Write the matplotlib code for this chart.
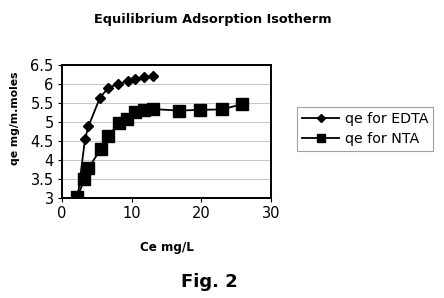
import numpy as np
import matplotlib
matplotlib.use("Agg")
import matplotlib.pyplot as plt

plt.rcParams['font.family'] = ['DejaVu Sans']

edta_ce = [2.3, 3.3, 3.8, 5.45, 6.64, 8.1, 9.5, 10.5, 11.8, 13.1]
edta_qe = [3.08, 4.55, 4.89, 5.64, 5.9, 6.0, 6.08, 6.12, 6.18, 6.2]
nta_ce = [2.2, 3.2, 3.8, 5.55, 6.64, 8.2, 9.3, 10.5, 11.7, 13.1, 16.8, 19.8, 22.9, 25.9]
nta_qe = [3.02, 3.49, 3.78, 4.29, 4.63, 4.98, 5.07, 5.27, 5.31, 5.34, 5.3, 5.32, 5.33, 5.47]

W, H = 444, 298
fig = plt.figure(figsize=(4.44, 2.98), dpi=100)
ax = fig.add_axes([62 / W, 1 - 198 / H, (271 - 62) / W, (198 - 65) / H])

ax.plot(edta_ce, edta_qe, color='black', lw=1.3, marker='D', ms=5.5, label='qe for EDTA')
ax.plot(nta_ce, nta_qe, color='black', lw=1.3, marker='s', ms=8, label='qe for NTA')

ax.set_xlim(0, 30)
ax.set_ylim(3, 6.5)
ax.set_xticks([0, 10, 20, 30])
ax.set_yticks(np.arange(3, 6.51, 0.5))
ax.set_yticklabels(['3', '3.5', '4', '4.5', '5', '5.5', '6', '6.5'])
ax.yaxis.grid(True, color='#bbbbbb', lw=0.6)
ax.set_axisbelow(True)
for s in ax.spines.values():
    s.set_linewidth(1.4)
ax.tick_params(labelsize=10.5, length=3, width=0.8, direction='out', pad=3)

fig.text(15 / W, 1 - 118 / H, 'qe mg/m.moles', rotation=90, ha='center', va='center',
         fontsize=7.8, fontweight='bold')
fig.text(167 / W, 1 - 248 / H, 'Ce mg/L', ha='center', va='center',
         fontsize=8.6, fontweight='bold')

leg = fig.legend(loc='upper left', bbox_to_anchor=(297 / W, 1 - 107 / H), fontsize=10.3,
                 frameon=True, fancybox=False, edgecolor='#888888', borderaxespad=0,
                 handlelength=2.6, borderpad=0.35, labelspacing=0.45, handletextpad=0.4,
                 markerscale=0.75)
leg.get_frame().set_linewidth(0.8)

fig.text(213 / W, 1 - 20 / H, 'Equilibrium Adsorption Isotherm', ha='center', va='center',
         fontsize=9.3, fontweight='bold')
fig.text(209 / W, 1 - 282 / H, 'Fig. 2', ha='center', va='center', fontsize=13, fontweight='bold')

fig.savefig('out.png', dpi=100, facecolor='white')
